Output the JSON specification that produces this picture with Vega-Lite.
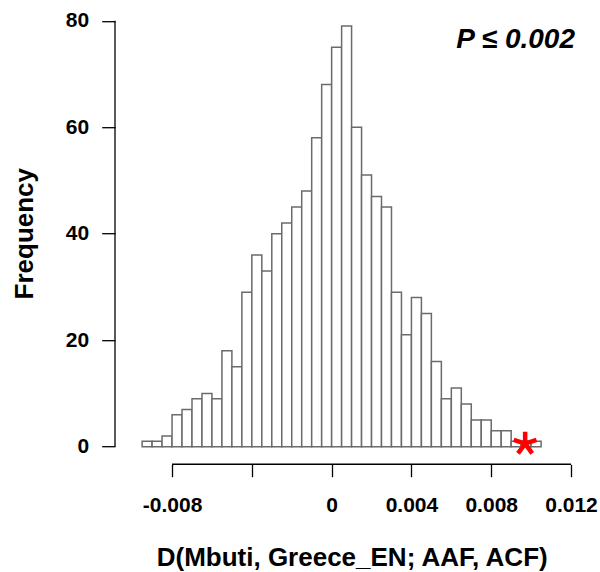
{
  "$schema": "https://vega.github.io/schema/vega-lite/v6.json",
  "width": 464,
  "height": 454.3,
  "autosize": "none",
  "padding": {"left": 115, "top": 9.2, "right": 21, "bottom": 108.5},
  "background": "white",
  "config": {"view": {"stroke": null}, "font": "Liberation Sans"},
  "datasets": {
    "null_dist": [
      {"bin_start": -0.0095, "bin_end": -0.009, "count": 1},
      {"bin_start": -0.009, "bin_end": -0.0085, "count": 1},
      {"bin_start": -0.0085, "bin_end": -0.008, "count": 2},
      {"bin_start": -0.008, "bin_end": -0.0075, "count": 6},
      {"bin_start": -0.0075, "bin_end": -0.007, "count": 7},
      {"bin_start": -0.007, "bin_end": -0.0065, "count": 9},
      {"bin_start": -0.0065, "bin_end": -0.006, "count": 10},
      {"bin_start": -0.006, "bin_end": -0.0055, "count": 9},
      {"bin_start": -0.0055, "bin_end": -0.005, "count": 18},
      {"bin_start": -0.005, "bin_end": -0.0045, "count": 15},
      {"bin_start": -0.0045, "bin_end": -0.004, "count": 29},
      {"bin_start": -0.004, "bin_end": -0.0035, "count": 36},
      {"bin_start": -0.0035, "bin_end": -0.003, "count": 33},
      {"bin_start": -0.003, "bin_end": -0.0025, "count": 40},
      {"bin_start": -0.0025, "bin_end": -0.002, "count": 42},
      {"bin_start": -0.002, "bin_end": -0.0015, "count": 45},
      {"bin_start": -0.0015, "bin_end": -0.001, "count": 48},
      {"bin_start": -0.001, "bin_end": -0.0005, "count": 58},
      {"bin_start": -0.0005, "bin_end": 0, "count": 68},
      {"bin_start": 0, "bin_end": 0.0005, "count": 75},
      {"bin_start": 0.0005, "bin_end": 0.001, "count": 79},
      {"bin_start": 0.001, "bin_end": 0.0015, "count": 60},
      {"bin_start": 0.0015, "bin_end": 0.002, "count": 51},
      {"bin_start": 0.002, "bin_end": 0.0025, "count": 47},
      {"bin_start": 0.0025, "bin_end": 0.003, "count": 45},
      {"bin_start": 0.003, "bin_end": 0.0035, "count": 29},
      {"bin_start": 0.0035, "bin_end": 0.004, "count": 21},
      {"bin_start": 0.004, "bin_end": 0.0045, "count": 28},
      {"bin_start": 0.0045, "bin_end": 0.005, "count": 25},
      {"bin_start": 0.005, "bin_end": 0.0055, "count": 16},
      {"bin_start": 0.0055, "bin_end": 0.006, "count": 9},
      {"bin_start": 0.006, "bin_end": 0.0065, "count": 11},
      {"bin_start": 0.0065, "bin_end": 0.007, "count": 8},
      {"bin_start": 0.007, "bin_end": 0.0075, "count": 5},
      {"bin_start": 0.0075, "bin_end": 0.008, "count": 5},
      {"bin_start": 0.008, "bin_end": 0.0085, "count": 3},
      {"bin_start": 0.0085, "bin_end": 0.009, "count": 3},
      {"bin_start": 0.009, "bin_end": 0.0095, "count": 1},
      {"bin_start": 0.0095, "bin_end": 0.01, "count": 1},
      {"bin_start": 0.01, "bin_end": 0.0105, "count": 1}
    ],
    "observed": [
      {"D": 0.0097, "count": 0}
    ]
  },
  "layer": [
    {
      "data": {"name": "null_dist"},
      "mark": {"type": "rect", "fill": "white", "stroke": "#6b6b6b", "strokeWidth": 1.5},
      "encoding": {
        "x": {
          "field": "bin_start",
          "type": "quantitative",
          "title": "D(Mbuti, Greece_EN; AAF, ACF)",
          "scale": {"domain": [-0.01086, 0.0124], "nice": false, "zero": false},
          "axis": {
            "values": [-0.008, -0.004, 0, 0.004, 0.008, 0.012],
            "labelExpr": "datum.value == -0.004 ? '' : datum.value == 0 ? '0' : (datum.value < 0 ? '-' : '') + format(abs(datum.value), '.3f')",
            "domain": false,
            "grid": false,
            "offset": 0.8,
            "tickSize": 12.4,
            "tickWidth": 1.3,
            "tickColor": "black",
            "labelFontSize": 21,
            "labelFontWeight": "bold",
            "labelColor": "black",
            "labelPadding": 18,
            "labelFlush": false,
            "labelOverlap": false,
            "titleFontSize": 26,
            "titleFontWeight": "bold",
            "titleColor": "black",
            "titleX": 236.7,
            "titleY": 101,
            "titleAlign": "center",
            "titleBaseline": "alphabetic"
          }
        },
        "x2": {"field": "bin_end"},
        "y": {
          "field": "count",
          "type": "quantitative",
          "title": "Frequency",
          "scale": {"domain": [-3.16, 82.16], "nice": false, "zero": false},
          "axis": {
            "values": [0, 20, 40, 60, 80],
            "domain": false,
            "grid": false,
            "tickSize": 13.3,
            "tickWidth": 1.3,
            "tickColor": "black",
            "labelFontSize": 21,
            "labelFontWeight": "bold",
            "labelColor": "black",
            "labelPadding": 13,
            "labelOverlap": false,
            "titleFontSize": 26,
            "titleFontWeight": "bold",
            "titleColor": "black",
            "titleAngle": -90,
            "titleX": -91,
            "titleY": 224,
            "titleAlign": "center",
            "titleBaseline": "middle"
          }
        },
        "y2": {"datum": 0}
      }
    },
    {
      "data": {"values": [{}]},
      "mark": {"type": "rule", "color": "black", "strokeWidth": 1.3},
      "encoding": {
        "x": {"datum": -0.008, "type": "quantitative", "title": "D(Mbuti, Greece_EN; AAF, ACF)"},
        "x2": {"datum": 0.012},
        "y": {"datum": -3.3, "type": "quantitative", "title": "Frequency"}
      }
    },
    {
      "data": {"values": [{}]},
      "mark": {"type": "rule", "color": "black", "strokeWidth": 1.3},
      "encoding": {
        "x": {"datum": -0.01086, "type": "quantitative", "title": "D(Mbuti, Greece_EN; AAF, ACF)"},
        "y": {"datum": 0, "type": "quantitative", "title": "Frequency"},
        "y2": {"datum": 80}
      }
    },
    {
      "data": {"name": "observed"},
      "mark": {
        "type": "point",
        "shape": "M0,-1L0,0M0.95,-0.31L0,0M0.59,0.81L0,0M-0.59,0.81L0,0M-0.95,-0.31L0,0",
        "filled": false,
        "stroke": "red",
        "strokeWidth": 4.5,
        "size": 576,
        "opacity": 1,
        "yOffset": -3
      },
      "encoding": {
        "x": {"field": "D", "type": "quantitative", "title": "D(Mbuti, Greece_EN; AAF, ACF)"},
        "y": {"field": "count", "type": "quantitative", "title": "Frequency"}
      }
    },
    {
      "data": {"values": [{}]},
      "mark": {
        "type": "text",
        "text": "P ≤ 0.002",
        "font": "Liberation Sans",
        "fontSize": 28,
        "fontWeight": "bold",
        "fontStyle": "italic",
        "color": "black",
        "align": "right",
        "baseline": "alphabetic"
      },
      "encoding": {
        "x": {"datum": 0.0122, "type": "quantitative", "title": "D(Mbuti, Greece_EN; AAF, ACF)"},
        "y": {"datum": 74.8, "type": "quantitative", "title": "Frequency"}
      }
    }
  ]
}
